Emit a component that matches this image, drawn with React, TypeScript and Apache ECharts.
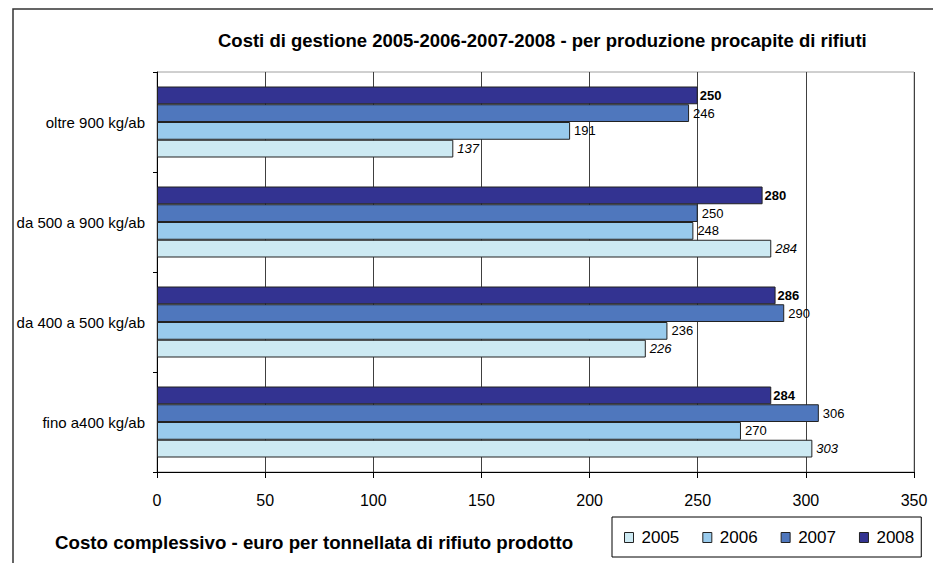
import React, { useEffect, useRef } from "react";
import * as echarts from "echarts";

const categories = ["fino a400 kg/ab", "da 400 a 500 kg/ab", "da 500 a 900 kg/ab", "oltre 900 kg/ab"];
const years = ["2005", "2006", "2007", "2008"];
const values2005 = [303, 226, 284, 137];
const values2006 = [270, 236, 248, 191];
const values2007 = [306, 290, 250, 246];
const values2008 = [284, 286, 280, 250];
const xTicks = [0, 350, 50];
const titleText = "Costi di gestione 2005-2006-2007-2008 - per produzione procapite di rifiuti";
const axisTitle = "Costo complessivo - euro per tonnellata di rifiuto prodotto";

const colors = ["#cdeaf3", "#99cbed", "#4f77bd", "#333391"];
const FONT = "'Liberation Sans', Arial, sans-serif";

export default function App() {
  const ref = useRef<HTMLDivElement>(null);
  useEffect(() => {
    document.body.style.margin = "0";
    if (!ref.current) return;
    const chart = echarts.init(ref.current, null, { renderer: "svg" });
    const seriesData = [values2005, values2006, values2007, values2008];
    const labelStyles: any[] = [
      { fontStyle: "italic", fontWeight: "normal", distance: 4 },
      { fontStyle: "normal", fontWeight: "normal", distance: 4 },
      { fontStyle: "normal", fontWeight: "normal", distance: 4 },
      { fontStyle: "normal", fontWeight: "bold", distance: 2 },
    ];
    // ECharts stacks the first series at the top of each horizontal band,
    // so series are added from 2008 down to 2005.
    const order = [3, 2, 1, 0];
    chart.setOption({
      animation: false,
      backgroundColor: "#ffffff",
      textStyle: { fontFamily: FONT },
      title: [
        {
          text: titleText,
          left: 218,
          top: 31,
          padding: 0,
          textStyle: { fontFamily: FONT, fontSize: 18.5, fontWeight: "bold", color: "#000" },
        },
        {
          text: axisTitle,
          left: 55,
          top: 533,
          padding: 0,
          textStyle: { fontFamily: FONT, fontSize: 18.7, fontWeight: "bold", color: "#000" },
        },
      ],
      graphic: [
        {
          type: "rect",
          shape: { x: 13, y: 9, width: 1000, height: 1000 },
          style: { fill: "none", stroke: "#333", lineWidth: 1.5 },
          silent: true,
        },
      ],
      legend: {
        data: years,
        left: 612,
        top: 517,
        orient: "horizontal",
        padding: [12, 7, 11, 12],
        borderColor: "#000",
        borderWidth: 1,
        itemWidth: 9,
        itemHeight: 10,
        itemGap: 23,
        icon: "rect",
        itemStyle: { borderColor: "#222", borderWidth: 1 },
        textStyle: { fontFamily: FONT, fontSize: 17, color: "#000", padding: [0, 0, 0, 3] },
      },
      grid: {
        left: 157,
        top: 72,
        width: 757,
        height: 400,
        show: true,
        borderColor: "#a0a0a0",
        borderWidth: 1,
        containLabel: false,
      },
      xAxis: {
        type: "value",
        min: xTicks[0],
        max: xTicks[1],
        interval: xTicks[2],
        axisLine: { show: true, lineStyle: { color: "#000", width: 1 } },
        axisTick: { show: true, length: 6, lineStyle: { color: "#000" } },
        splitLine: { show: true, lineStyle: { color: "#404040", width: 1 } },
        axisLabel: { fontFamily: FONT, fontSize: 16, color: "#000", margin: 20 },
      },
      yAxis: {
        type: "category",
        data: categories,
        axisLine: { show: true, lineStyle: { color: "#000", width: 1 } },
        axisTick: { show: true, length: 4, lineStyle: { color: "#000" } },
        axisLabel: { fontFamily: FONT, fontSize: 15, color: "#000", margin: 12 },
        splitLine: { show: false },
      },
      series: order.map((i) => ({
        name: years[i],
        type: "bar",
        data: seriesData[i],
        barGap: "0%",
        barCategoryGap: "29%",
        itemStyle: { color: colors[i], borderColor: "#222", borderWidth: 1 },
        label: {
          show: true,
          position: "right",
          distance: labelStyles[i].distance,
          fontFamily: FONT,
          fontSize: 13,
          color: "#000",
          fontStyle: labelStyles[i].fontStyle,
          fontWeight: labelStyles[i].fontWeight,
        },
      })),
    });
    return () => chart.dispose();
  }, []);
  return <div ref={ref} style={{ width: 933, height: 563 }} />;
}
